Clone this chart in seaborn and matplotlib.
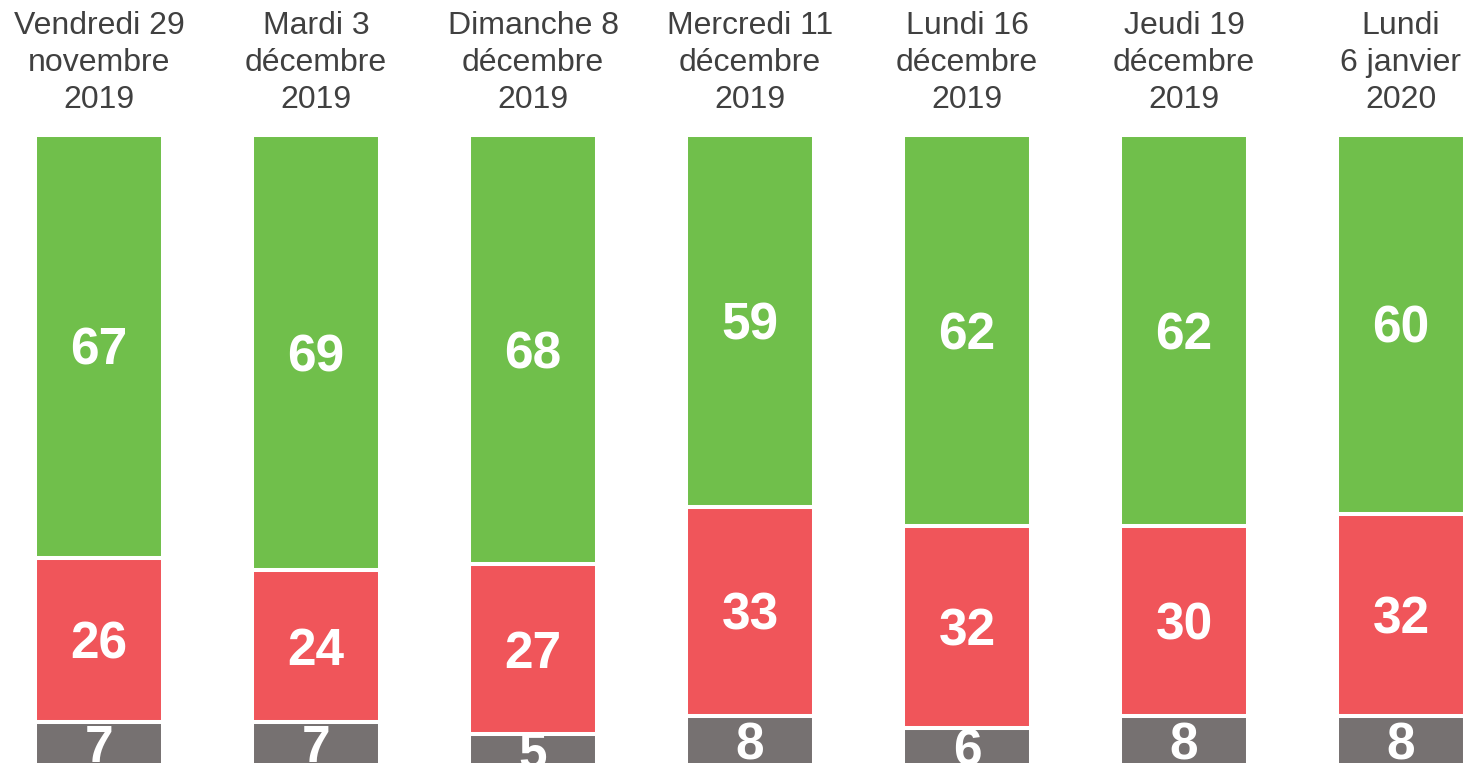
import numpy as np
import pandas as pd
import seaborn as sns
import matplotlib.pyplot as plt

sns.set_style('white')
plt.rcParams['font.family'] = ['Liberation Sans', 'DejaVu Sans']

# data
dates = ['Vendredi 29\nnovembre\n2019', 'Mardi 3\ndécembre\n2019',
         'Dimanche 8\ndécembre\n2019', 'Mercredi 11\ndécembre\n2019',
         'Lundi 16\ndécembre\n2019', 'Jeudi 19\ndécembre\n2019',
         'Lundi\n6 janvier\n2020']
green = [67, 69, 68, 59, 62, 62, 60]
red = [26, 24, 27, 33, 32, 30, 32]
gray = [7, 7, 5, 8, 6, 8, 8]

GREEN = '#70bf4b'
RED = '#f0555a'
GRAY = '#767171'

df = pd.DataFrame({'date': dates, 'green': green, 'red': red, 'gray': gray})
df['top'] = df['gray'] + df['red'] + df['green']
df['mid'] = df['gray'] + df['red']

fig = plt.figure(figsize=(14.72, 7.63), dpi=100)
ax = fig.add_axes([0, 0, 1, 1])

# stacked look: draw cumulative totals from tallest to shortest
for col, c in [('top', GREEN), ('mid', RED), ('gray', GRAY)]:
    sns.barplot(data=df, x='date', y=col, color=c, width=0.59,
                edgecolor='white', linewidth=2.9, saturation=1, ax=ax)

# map data to pixels like the reference (0 -> 766px, 100 -> 135px)
ppu = 6.31
ax.set_xlim(-99 / 217, (1472 - 99) / 217)
ax.set_ylim((766 - 763) / ppu, 766 / ppu)
ax.axis('off')

shift = 5 / ppu  # labels sit a little lower than bbox center
for i, row in df.iterrows():
    ax.text(i, row['mid'] + row['green'] / 2 - shift, str(row['green']), ha='center', va='center',
            color='white', fontsize=37, fontweight='bold')
    ax.text(i, row['gray'] + row['red'] / 2 - shift, str(row['red']), ha='center', va='center',
            color='white', fontsize=37, fontweight='bold')
    ax.text(i, row['gray'] / 2 - shift, str(row['gray']), ha='center', va='center',
            color='white', fontsize=37, fontweight='bold')
    ax.text(i, (766 - 63) / ppu, row['date'], ha='center', va='center',
            color='#404040', fontsize=23, linespacing=1.31)

fig.savefig('out.png', dpi=100)
